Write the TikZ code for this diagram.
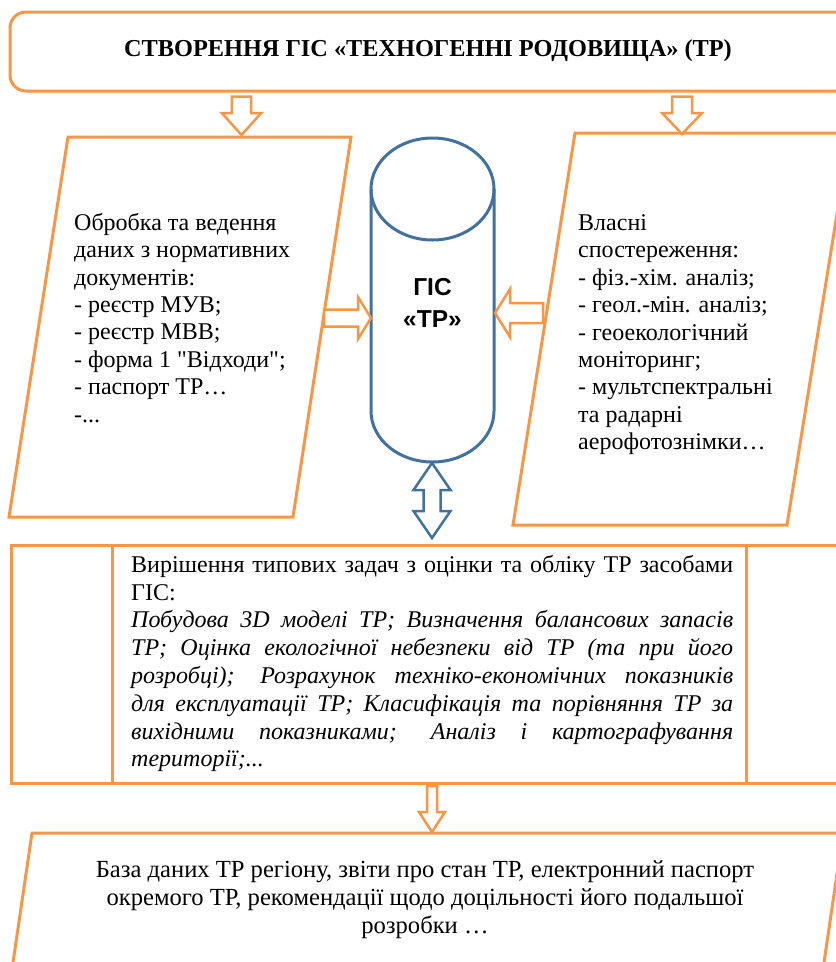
\documentclass[tikz,border=0pt]{standalone}
\usepackage{fontspec}
\setmainfont{Liberation Serif}
\newfontfamily\gissans{Liberation Sans}
\newfontfamily\qfont{Liberation Serif}[Ligatures=TeXOff]
\definecolor{orng}{HTML}{F79646}
\definecolor{gblue}{HTML}{41719C}
\newcommand{\bodyfont}{\fontsize{24}{27.4}\selectfont}
\tikzset{
  pics/blockarrow/.style n args={4}{code={
    \path[pic actions] (0,-#2) -- ({#1-#4},-#2) -- ({#1-#4},-#3) -- (#1,0)
      -- ({#1-#4},#3) -- ({#1-#4},#2) -- (0,#2) -- cycle;}},
  pics/dblarrow/.style n args={4}{code={
    \path[pic actions] (0,0) -- (#4,-#3) -- (#4,-#2) -- ({#1-#4},-#2) -- ({#1-#4},-#3)
      -- (#1,0) -- ({#1-#4},#3) -- ({#1-#4},#2) -- (#4,#2) -- (#4,#3) -- cycle;}},
}
\begin{document}
\begin{tikzpicture}[x=1pt,y=-1pt,
  obox/.style={draw=orng, line width=3pt, line join=miter},
  oarrow/.style={draw=orng, fill=white, line width=2.5pt, line join=miter},
  barrowstyle/.style={draw=gblue, fill=white, line width=2.5pt, line join=miter},
  cyl/.style={draw=gblue, line width=3pt},
  txt/.style={inner sep=0pt, font=\bodyfont}]
\useasboundingbox (0,0) rectangle (836,962);
\clip (0,0) rectangle (836,962);

% top rounded box
\draw[obox, rounded corners=16pt] (10,12) rectangle (852,91);
\node[inner sep=0pt, font=\fontsize{24.3}{27}\selectfont\bfseries] (title) at (428,51)
  {СТВОРЕННЯ ГІС «ТЕХНОГЕННІ РОДОВИЩА» (ТР)};
\coordinate (topL) at (241.5,96.5);
\coordinate (topR) at (682,96.5);

% left parallelogram
\draw[obox] (68,137) -- (351,137) -- (293,517) -- (9,517) -- cycle;
\node[txt, anchor=north west, align=left] (lefttxt) at (74,213)
  {Обробка та ведення\\даних з нормативних\\документів:\\- реєстр МУВ;\\- реєстр МВВ;\\- форма 1 {\qfont"}Відходи{\qfont"};\\- паспорт ТР…\\-...};

% right parallelogram
\draw[obox] (575,133) -- (850,133) -- (787,525) -- (513,525) -- cycle;
\node[txt, anchor=north west, align=left] (righttxt) at (578,214.5)
  {Власні\\спостереження:\\- фіз.-хім. аналіз;\\- геол.-мін. аналіз;\\- геоекологічний\\моніторинг;\\- мультспектральні\\та радарні\\аерофотознімки…};

% cylinder
\draw[cyl] (432.5,189) ellipse [x radius=61.5, y radius=51];
\draw[cyl] (371,189) -- (371,411) arc[start angle=180, end angle=0, x radius=61.5, y radius=51] -- (494,189);
\node[inner sep=0pt, align=center, font=\fontsize{24.5}{32}\selectfont\gissans\bfseries] (gis) at (432.5,302.5)
  {ГІС\\«ТР»};

% arrows from top box
\pic[oarrow, rotate=-90] at (topL) {blockarrow={38.5}{9.7}{19.7}{22}};
\pic[oarrow, rotate=-90] at (topR) {blockarrow={37.5}{10}{20}{21}};
% side arrows into cylinder
\pic[oarrow] at (324,318) {blockarrow={47}{8.5}{21}{13}};
\pic[oarrow, rotate=180] at (543,313) {blockarrow={48}{10}{24}{15}};
% double arrow cylinder <-> middle box
\pic[barrowstyle, rotate=-90] at (432,463) {dblarrow={75}{8.5}{18.5}{27}};

% middle box (predefined process)
\draw[obox] (11,545) rectangle (848,783);
\draw[obox] (112,545) -- (112,783);
\draw[obox] (746,545) -- (746,783);
\node[inner sep=0pt, font=\fontsize{24}{27.8}\selectfont, anchor=north west, text width=602pt, align=justify] (midtxt) at (131,555)
  {Вирішення типових задач з оцінки та обліку ТР засобами\linebreak ГІС:\\
   \itshape Побудова 3D моделі ТР; Визначення балансових запасів\linebreak
   ТР; Оцінка екологічної небезпеки від ТР (та при його\linebreak
   розробці); Розрахунок техніко-економічних показників\linebreak
   для експлуатації ТР; Класифікація та порівняння ТР за\linebreak
   вихідними показниками; Аналіз і картографування\linebreak
   території;...};

% arrow to bottom
\pic[oarrow, rotate=-90] at (432,786) {blockarrow={46}{5}{13}{20}};

% bottom parallelogram
\draw[obox] (32,833) -- (843,833) -- (821,983) -- (10,983) -- cycle;
\node[inner sep=0pt, font=\fontsize{24.6}{28}\selectfont, anchor=north, align=center] (bottxt) at (425,860)
  {База даних ТР регіону, звіти про стан ТР, електронний паспорт\\окремого ТР, рекомендації щодо доцільності його подальшої\\розробки …};
\end{tikzpicture}
\end{document}
